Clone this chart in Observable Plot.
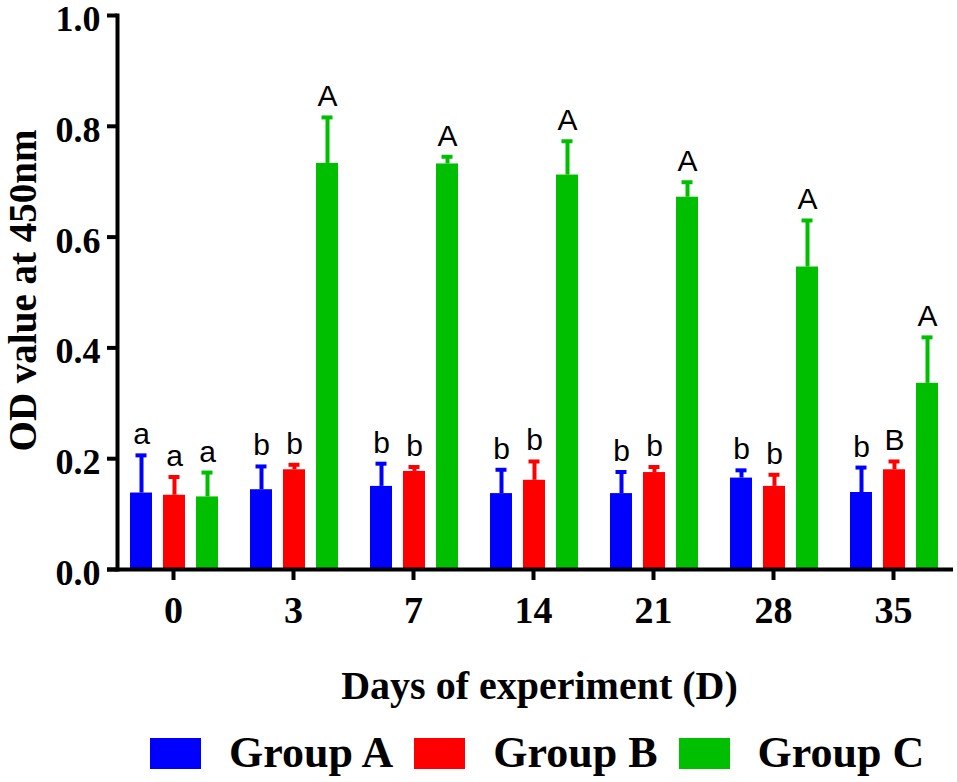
<!DOCTYPE html>
<html>
<head>
<meta charset="utf-8">
<script src="https://cdn.jsdelivr.net/npm/d3@7"></script>
<script src="https://cdn.jsdelivr.net/npm/@observablehq/plot@0.6"></script>
<style>
  body { margin: 0; background: #fff; }
  #legend { display: flex; align-items: center; height: 50px; margin-top: 10px; padding-left: 150px;
            font-family: "Liberation Serif", serif; font-weight: bold; font-size: 44px; line-height: 44px; color: #000; }
  #legend .sw { width: 51px; height: 31px; margin-right: 28px; }
  #legend .lb { margin-right: 21px; white-space: nowrap; }
</style>
</head>
<body>
<div id="chart"></div>
<script>
const days = ["0", "3", "7", "14", "21", "28", "35"];
const groups = ["Group A", "Group B", "Group C"];
const colors = ["#0000FF", "#FF0000", "#00BF00"];

const meanA = [0.138, 0.144, 0.150, 0.137, 0.137, 0.165, 0.139];
const meanB = [0.134, 0.180, 0.177, 0.161, 0.175, 0.150, 0.180];
const meanC = [0.131, 0.733, 0.732, 0.712, 0.672, 0.546, 0.336];

const sdA = [0.068, 0.042, 0.041, 0.043, 0.039, 0.014, 0.045];
const sdB = [0.033, 0.009, 0.008, 0.034, 0.010, 0.021, 0.015];
const sdC = [0.044, 0.083, 0.013, 0.061, 0.027, 0.084, 0.083];

const lettersA = ["a", "b", "b", "b", "b", "b", "b"];
const lettersB = ["a", "b", "b", "b", "b", "b", "B"];
const lettersC = ["a", "A", "A", "A", "A", "A", "A"];

const yTicks = [0, 0.2, 0.4, 0.6, 0.8, 1.0];

const means = [meanA, meanB, meanC];
const sds = [sdA, sdB, sdC];
const letters = [lettersA, lettersB, lettersC];

// layout constants (pixel offsets of each group's bar from the day's centre)
const offsets = [-32, 1, 34];
const half = 60, barHalf = 11, capHalf = 5.5;

const marks = [];
groups.forEach((g, gi) => {
  const rows = days.map((d, i) => ({
    day: d, group: g, mean: means[gi][i], upper: means[gi][i] + sds[gi][i], letter: letters[gi][i]
  }));
  const off = offsets[gi];
  marks.push(Plot.barY(rows, {x: "day", y: "mean", fill: colors[gi],
    insetLeft: half + off - barHalf, insetRight: half - off - barHalf}));
  marks.push(Plot.ruleX(rows, {x: "day", y1: "mean", y2: "upper", stroke: colors[gi], strokeWidth: 4, dx: off}));
  marks.push(Plot.tickY(rows, {x: "day", y: "upper", stroke: colors[gi], strokeWidth: 4,
    insetLeft: half + off - capHalf, insetRight: half - off - capHalf}));
  marks.push(Plot.text(rows, {x: "day", y: "upper", text: "letter", dx: off, dy: -11, lineAnchor: "bottom",
    fontSize: 30, fontFamily: "Liberation Sans", fill: "#000"}));
});

const chart = Plot.plot({
  width: 957,
  height: 718,
  marginTop: 15,
  marginLeft: 117,
  marginRight: 4,
  marginBottom: 149,
  style: {fontFamily: "Liberation Serif", color: "#000", background: "#fff"},
  x: {domain: days, range: [113, 953], padding: 0, axis: null},
  y: {domain: [0, 1], axis: null},
  marks: [
    ...marks,
    // y tick marks
    Plot.axisY({ticks: yTicks, tickFormat: () => "", tickSize: 10, strokeWidth: 4, label: null}),
    // y tick labels (nudged slightly down, as in the reference)
    Plot.axisY({ticks: yTicks, tickFormat: d => d.toFixed(1), tickSize: 0, tickPadding: 17, dy: 4,
      fontSize: 36, fontWeight: "bold", fontFamily: "Liberation Serif", label: null}),
    Plot.axisX({tickSize: 11, tickPadding: 16, strokeWidth: 4, fontSize: 38, fontWeight: "bold",
      fontFamily: "Liberation Serif", label: null}),
    Plot.frame({anchor: "left", strokeWidth: 4}),
    Plot.ruleY([0], {strokeWidth: 4, insetLeft: -10}),
    Plot.text(["Days of experiment (D)"], {frameAnchor: "bottom", dy: 129, dx: 4, lineAnchor: "bottom",
      fontSize: 40, fontWeight: "bold", fontFamily: "Liberation Serif", fill: "#000"}),
    Plot.text(["OD value at 450nm"], {frameAnchor: "left", rotate: -90, dx: -94, dy: -2, textAnchor: "middle",
      lineAnchor: "middle", fontSize: 39, fontWeight: "bold", fontFamily: "Liberation Serif", fill: "#000"})
  ]
});
document.getElementById("chart").appendChild(chart);

const legend = document.createElement("div");
legend.id = "legend";
groups.forEach((g, gi) => {
  const sw = document.createElement("span");
  sw.className = "sw";
  sw.style.background = colors[gi];
  const lb = document.createElement("span");
  lb.className = "lb";
  lb.textContent = g;
  legend.appendChild(sw);
  legend.appendChild(lb);
});
document.body.appendChild(legend);
</script>
</body>
</html>
